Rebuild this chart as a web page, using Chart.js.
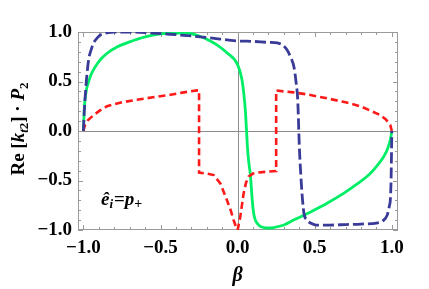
<!DOCTYPE html>
<html>
<head>
<meta charset="utf-8">
<script src="https://cdn.jsdelivr.net/npm/chart.js@4/dist/chart.umd.min.js"></script>
<style>
  html, body { margin: 0; padding: 0; background: #fff; }
  #wrap { width: 429px; height: 289px; }
</style>
</head>
<body>
<div id="wrap"><canvas id="c" width="429" height="289"></canvas></div>
<script>
// ---- data ----
const greenBeta = [-1.0, -0.995, -0.99, -0.98, -0.966, -0.95, -0.934, -0.91, -0.89, -0.85, -0.78, -0.7, -0.6, -0.5, -0.4, -0.33, -0.25, -0.177, -0.134, -0.069, 0.0, 0.028, 0.04, 0.05, 0.058, 0.065, 0.075, 0.082, 0.095, 0.104, 0.115, 0.126, 0.145, 0.169, 0.2, 0.234, 0.3, 0.363, 0.47, 0.58, 0.687, 0.78, 0.86, 0.91, 0.947, 0.97, 0.99, 1.0];
const greenValue = [0.0, 0.2, 0.31, 0.42, 0.5, 0.57, 0.62, 0.68, 0.72, 0.78, 0.85, 0.9, 0.95, 0.98, 0.99, 0.99, 0.96, 0.91, 0.87, 0.79, 0.67, 0.52, 0.38, 0.21, 0.0, -0.19, -0.35, -0.43, -0.7, -0.83, -0.9, -0.93, -0.96, -0.975, -0.98, -0.975, -0.95, -0.9, -0.82, -0.73, -0.63, -0.53, -0.43, -0.34, -0.26, -0.19, -0.09, 0.0];

const redBeta = [-1.0, -0.99, -0.97, -0.934, -0.89, -0.847, -0.75, -0.675, -0.55, -0.458, -0.35, -0.263, -0.25, -0.25, -0.2, -0.155, -0.112, -0.069, -0.045, -0.026, -0.01, 0.0, 0.017, 0.039, 0.055, 0.071, 0.1, 0.126, 0.2, 0.25, 0.25, 0.3, 0.363, 0.45, 0.58, 0.7, 0.796, 0.87, 0.925, 0.96, 0.99, 1.0];
const redValue = [0.0, 0.06, 0.11, 0.16, 0.21, 0.25, 0.29, 0.31, 0.34, 0.36, 0.39, 0.41, 0.41, -0.42, -0.43, -0.445, -0.53, -0.7, -0.8, -0.9, -0.97, -1.0, -0.87, -0.63, -0.52, -0.46, -0.43, -0.42, -0.41, -0.405, 0.41, 0.4, 0.39, 0.37, 0.33, 0.29, 0.25, 0.2, 0.16, 0.12, 0.06, 0.0];

const blueBeta = [-1.0, -0.995, -0.99, -0.98, -0.966, -0.95, -0.934, -0.91, -0.89, -0.85, -0.8, -0.675, -0.55, -0.46, -0.3, -0.177, 0.0, 0.1, 0.2, 0.256, 0.29, 0.32, 0.345, 0.365, 0.38, 0.39, 0.4, 0.41, 0.42, 0.43, 0.45, 0.48, 0.51, 0.6, 0.7, 0.8, 0.9, 0.94, 0.97, 0.985, 0.99, 0.995, 1.0];
const blueValue = [0.0, 0.18, 0.31, 0.52, 0.72, 0.82, 0.89, 0.94, 0.97, 0.99, 1.0, 1.0, 0.99, 0.98, 0.96, 0.94, 0.91, 0.905, 0.895, 0.89, 0.87, 0.82, 0.74, 0.65, 0.48, 0.31, -0.15, -0.45, -0.68, -0.83, -0.9, -0.935, -0.95, -0.95, -0.945, -0.94, -0.93, -0.91, -0.85, -0.75, -0.7, -0.5, 0.0];

const xTicks = [-1.0, -0.5, 0.0, 0.5, 1.0];
const yTicks = [-1.0, -0.5, 0.0, 0.5, 1.0];
const xTickLabels = ["\u22121.0", "\u22120.5", "0.0", "0.5", "1.0"];
const yTickLabels = ["\u22121.0", "\u22120.5", "0.0", "0.5", "1.0"];

const toPts = (xs, ys) => xs.map((x, i) => ({ x: x, y: ys[i] }));

const SERIF = '"Liberation Serif", "DejaVu Serif", serif';

const framePlugin = {
  id: 'framePlugin',
  beforeDatasetsDraw(chart) {
    const { ctx, chartArea: a, scales } = chart;
    const xs = scales.x, ys = scales.y;
    ctx.save();
    ctx.strokeStyle = '#8c8c8c';
    ctx.lineWidth = 1;
    const x0 = Math.round(xs.getPixelForValue(0)) + 0.5;
    const y0 = Math.round(ys.getPixelForValue(0)) + 0.5;
    ctx.beginPath();
    ctx.moveTo(x0, a.top); ctx.lineTo(x0, a.bottom);
    ctx.moveTo(a.left, y0); ctx.lineTo(a.right, y0);
    ctx.stroke();
    ctx.strokeStyle = '#9a9a9a';
    ctx.strokeRect(Math.round(a.left) + 0.5, Math.round(a.top) + 0.5, Math.round(a.right - a.left) - 1, Math.round(a.bottom - a.top) - 1);
    ctx.beginPath();
    for (let k = -10; k <= 10; k++) {
      const v = k / 10;
      const major = (k % 5 === 0);
      const len = major ? 5 : 3;
      const px = Math.round(xs.getPixelForValue(v)) + 0.5;
      ctx.moveTo(px, a.bottom); ctx.lineTo(px, a.bottom - len);
      ctx.moveTo(px, a.top); ctx.lineTo(px, a.top + len);
      const py = Math.round(ys.getPixelForValue(v)) + 0.5;
      ctx.moveTo(a.left, py); ctx.lineTo(a.left + len, py);
      ctx.moveTo(a.right, py); ctx.lineTo(a.right - len, py);
    }
    ctx.stroke();
    ctx.restore();
  },
  afterDraw(chart) {
    const { ctx } = chart;
    ctx.save();
    ctx.fillStyle = '#000';
    ctx.textBaseline = 'alphabetic';
    function runs(parts, measureOnly) {
      let w = 0;
      for (const p of parts) {
        ctx.font = p.f;
        const pw = ctx.measureText(p.t).width;
        if (!measureOnly) ctx.fillText(p.t, w, p.dy || 0);
        w += pw + (p.sp || 0);
      }
      return w;
    }
    const yParts = [
      { t: 'Re [', f: 'bold 19px ' + SERIF },
      { t: 'k', f: 'italic bold 19px ' + SERIF },
      { t: 't', f: 'italic bold 13px ' + SERIF, dy: 4 },
      { t: '2', f: 'bold 13px ' + SERIF, dy: 4 },
      { t: '] \u00b7 ', f: 'bold 19px ' + SERIF },
      { t: 'P', f: 'italic bold 19px ' + SERIF },
      { t: '2', f: 'bold 13px ' + SERIF, dy: 4 }
    ];
    const yw = runs(yParts, true);
    ctx.save();
    ctx.translate(24, 129 + yw / 2);
    ctx.rotate(-Math.PI / 2);
    runs(yParts, false);
    ctx.restore();
    ctx.font = 'italic bold 20px ' + SERIF;
    ctx.textAlign = 'center';
    ctx.fillText('\u03b2', chart.scales.x.getPixelForValue(0), 281);
    ctx.textAlign = 'left';
    const aParts = [
      { t: '\u00ea', f: 'italic bold 19px ' + SERIF },
      { t: 'i', f: 'italic bold 13px ' + SERIF, dy: 3, sp: 1 },
      { t: '=', f: 'bold 19px ' + SERIF },
      { t: 'p', f: 'italic bold 19px ' + SERIF },
      { t: '+', f: 'bold 14px ' + SERIF, dy: 3 }
    ];
    ctx.save();
    ctx.translate(101, 205);
    runs(aParts, false);
    ctx.restore();
    ctx.restore();
  }
};

new Chart(document.getElementById('c'), {
  type: 'scatter',
  data: {
    datasets: [
      {
        label: 'blue',
        data: toPts(blueBeta, blueValue),
        showLine: true, pointRadius: 0,
        borderColor: '#3a3a98', borderWidth: 2.8,
        borderDash: [11, 4], cubicInterpolationMode: 'monotone', order: 0
      },
      {
        label: 'red',
        data: toPts(redBeta, redValue),
        showLine: true, pointRadius: 0,
        borderColor: '#ff1a1a', borderWidth: 2.6,
        borderDash: [7, 4], tension: 0, order: 1
      },
      {
        label: 'green',
        data: toPts(greenBeta, greenValue),
        showLine: true, pointRadius: 0,
        borderColor: '#00ee66', borderWidth: 2.8,
        cubicInterpolationMode: 'monotone', order: 2
      }
    ]
  },
  options: {
    responsive: false,
    devicePixelRatio: 1,
    animation: false,
    layout: { padding: { left: 0, right: 31, top: 32, bottom: 0 } },
    plugins: { legend: { display: false }, tooltip: { enabled: false } },
    scales: {
      x: {
        type: 'linear', min: -1.035, max: 1.04,
        grid: { display: false, drawTicks: false, tickLength: 0 }, border: { display: false },
        afterBuildTicks: (s) => { s.ticks = xTicks.map(v => ({ value: v })); },
        afterFit: (s) => { s.height = 59; },
        ticks: {
          autoSkip: false, maxRotation: 0, padding: 7, color: '#000',
          font: { family: SERIF, weight: 'bold', size: 19 },
          callback: (v) => xTickLabels[xTicks.indexOf(v)]
        }
      },
      y: {
        type: 'linear', min: -1, max: 1,
        grid: { display: false, drawTicks: false, tickLength: 0 }, border: { display: false },
        afterBuildTicks: (s) => { s.ticks = yTicks.map(v => ({ value: v })); },
        afterFit: (s) => { s.width = 78; },
        ticks: {
          autoSkip: false, padding: 6, color: '#000',
          font: { family: SERIF, weight: 'bold', size: 19 },
          callback: (v) => yTickLabels[yTicks.indexOf(v)]
        }
      }
    }
  },
  plugins: [framePlugin]
});
</script>
</body>
</html>
